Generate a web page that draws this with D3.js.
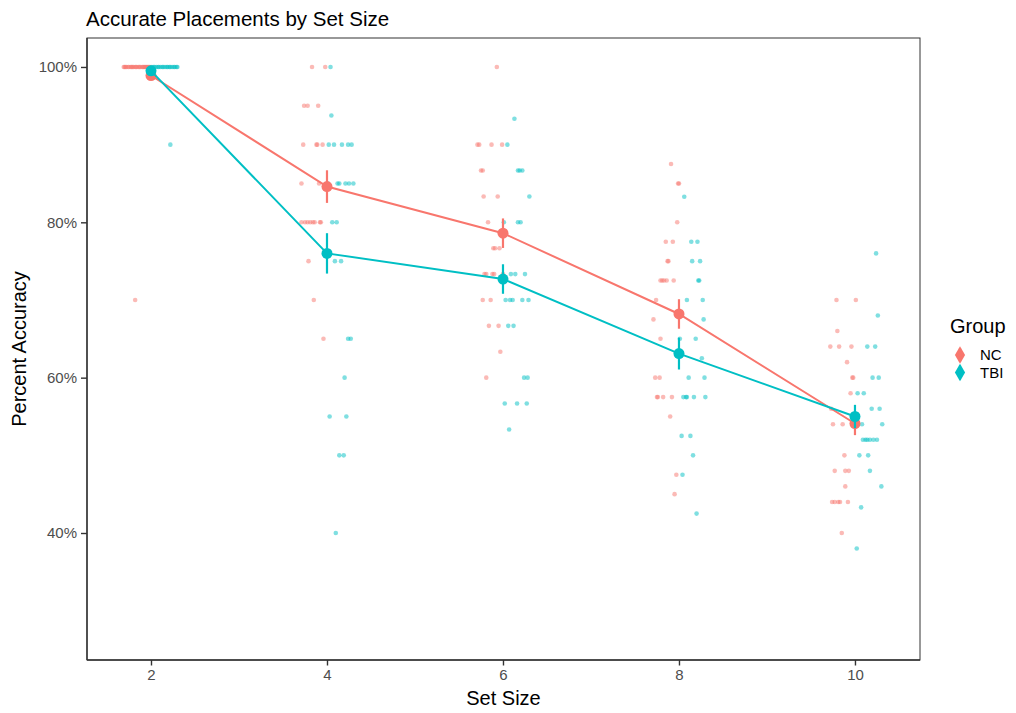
<!DOCTYPE html>
<html><head><meta charset="utf-8">
<script src="https://cdn.jsdelivr.net/npm/d3@7"></script>
<style>body{margin:0;background:#fff}svg{font-family:"Liberation Sans",Arial,Helvetica,sans-serif}</style>
</head><body>
<svg id="c" width="1016" height="713"></svg>
<script>
// ---- data ----
const setSizes = [2, 4, 6, 8, 10];
const groups = ["NC", "TBI"];
const colors = {NC: "#F8766D", TBI: "#00BFC4"};
const yTicks = [40, 60, 80, 100];

// group means and standard errors per set size
const meanNC  = [98.9, 84.6, 78.6, 68.2, 54.1];
const seNC    = [0.5, 2.1, 1.9, 1.9, 1.5];
const meanTBI = [99.5, 76.0, 72.7, 63.1, 55.0];
const seTBI   = [0.5, 2.6, 1.9, 2.05, 1.5];

// individual (jittered set size, accuracy %) observations
const ptsNC = [
  // set size 2
  [1.69,100],[1.70,100],[1.71,100],[1.72,100],[1.74,100],[1.75,100],[1.77,100],[1.78,100],[1.79,100],[1.80,100],[1.82,100],[1.83,100],[1.84,100],
  [1.86,100],[1.87,100],[1.88,100],[1.90,100],[1.91,100],[1.92,100],[1.93,100],[1.94,100],[1.95,100],[1.96,100],[1.97,100],[1.98,100],[1.99,100],[1.82,70],
  // set size 4
  [3.83,100],[3.98,100],[3.74,95],[3.78,95],[3.90,95],[3.73,90],[3.88,90],[3.89,90],[3.95,90],[3.71,85],[3.91,85],
  [3.71,80],[3.75,80],[3.78,80],[3.81,80],[3.84,80],[3.86,80],[3.92,80],[3.93,80],[3.79,75],[3.85,70],[3.96,65],
  // set size 6
  [5.93,100],[5.71,90],[5.73,90],[5.87,90],[5.99,90],[5.75,86.67],[5.77,86.67],[5.78,83.33],[5.94,83.33],[5.83,80],
  [5.89,76.67],[5.91,76.67],[5.96,76.67],[5.79,73.33],[5.81,73.33],[5.88,73.33],[5.90,73.33],[6.00,73.33],
  [5.77,70],[5.86,70],[5.84,66.67],[5.95,66.67],[5.97,63.33],[5.81,60],
  // set size 8
  [7.91,87.5],[7.99,85],[8.00,85],[7.98,80],[7.85,77.5],[7.93,77.5],[7.87,75],[7.88,75],
  [7.79,72.5],[7.81,72.5],[7.83,72.5],[7.86,72.5],[7.94,72.5],[7.74,70],[7.71,67.5],[7.79,65],
  [7.73,60],[7.78,60],[7.75,57.5],[7.76,57.5],[7.82,57.5],[7.92,57.5],[7.90,55],[7.97,47.5],[7.95,45],
  // set size 10
  [9.79,70],[10.01,70],[9.80,66],[9.72,64],[9.82,64],[9.96,64],[9.91,62],[9.97,60],[9.98,60],[9.95,58],[9.73,56],
  [9.75,54],[9.86,54],[10.00,54],[9.88,50],[9.77,48],[9.89,48],[9.93,48],[9.89,46],
  [9.74,44],[9.77,44],[9.81,44],[9.83,44],[9.92,44],[9.85,40]
];
const ptsTBI = [
  // set size 2
  [2.01,100],[2.03,100],[2.04,100],[2.06,100],[2.08,100],[2.09,100],[2.11,100],[2.13,100],[2.14,100],[2.16,100],
  [2.18,100],[2.19,100],[2.21,100],[2.22,100],[2.24,100],[2.26,100],[2.27,100],[2.29,100],[2.30,100],[2.22,90],
  // set size 4
  [4.04,100],[4.05,93.75],[4.02,90],[4.08,90],[4.17,90],[4.24,90],[4.28,90],
  [4.01,85],[4.12,85],[4.14,85],[4.21,85],[4.25,85],[4.30,85],[4.06,80],[4.11,80],[4.09,75],[4.16,75],
  [4.24,65],[4.27,65],[4.20,60],[4.03,55],[4.22,55],[4.14,50],[4.19,50],[4.10,40],
  // set size 6
  [6.13,93.33],[6.05,90],[6.17,86.67],[6.19,86.67],[6.22,86.67],[6.30,83.33],[6.01,80],[6.17,80],[6.20,80],
  [6.09,73.33],[6.14,73.33],[6.25,73.33],[6.03,70],[6.08,70],[6.11,70],[6.22,70],[6.29,70],
  [6.06,66.67],[6.12,66.67],[6.24,60],[6.28,60],[6.02,56.67],[6.16,56.67],[6.27,56.67],[6.07,53.33],
  // set size 8
  [8.06,83.3],[8.14,77.5],[8.21,77.5],[8.15,75],[8.24,75],[8.22,72.5],[8.23,72.5],[8.09,70],[8.27,70],[8.28,67.5],
  [8.01,65],[8.19,65],[8.26,62.5],[8.11,60],[8.29,60],[8.05,57.5],[8.08,57.5],[8.09,57.5],[8.17,57.5],[8.30,57.5],
  [8.03,52.5],[8.13,52.5],[8.16,50],[8.04,47.5],[8.20,42.5],
  // set size 10
  [10.24,76],[10.26,68],[10.14,64],[10.23,64],[10.20,60],[10.27,60],[10.03,58],[10.10,58],[10.19,56],[10.28,56],
  [10.08,54],[10.31,54],[10.09,52],[10.12,52],[10.14,52],[10.17,52],[10.21,52],[10.25,52],
  [10.05,50],[10.15,50],[10.17,48],[10.30,46],[10.07,43.3],[10.02,38]
];

// ---- layout ----
const svg = d3.select("#c");
const L = 87, R = 920, T = 38, B = 660;
const x = d3.scaleLinear().domain([1.2727, 10.739]).range([L, R]);
const y = d3.scaleLinear().domain([23.65, 103.73]).range([B, T]);
const axisCol = "#333333", labCol = "#4d4d4d";

// panel border
svg.append("rect").attr("x", L).attr("y", T).attr("width", R - L).attr("height", B - T)
  .attr("fill", "none").attr("stroke", "#333").attr("stroke-width", 1);

// axes
const xAx = svg.append("g").attr("transform", `translate(0,${B})`)
  .call(d3.axisBottom(x).tickValues(setSizes).tickSize(5.5).tickPadding(4).tickFormat(d3.format("d")));
const yAx = svg.append("g").attr("transform", `translate(${L},0)`)
  .call(d3.axisLeft(y).tickValues(yTicks).tickSize(6).tickPadding(4).tickFormat(d => d + "%"));
[xAx, yAx].forEach(g => {
  g.select(".domain").attr("stroke", axisCol).attr("stroke-width", 1.4);
  g.selectAll(".tick line").attr("stroke", axisCol).attr("stroke-width", 1.4);
  g.selectAll(".tick text").attr("fill", labCol).style("font-size", "15px")
    .style("font-family", '"Liberation Sans",Arial,sans-serif');
});
yAx.select(".domain").attr("d", `M0,${T}V${B}`);
xAx.select(".domain").attr("d", `M${L},0H${R}`);

// jittered points
const pts = {NC: ptsNC, TBI: ptsTBI};
groups.forEach(g => {
  svg.append("g").selectAll("circle").data(pts[g]).join("circle")
    .attr("cx", d => x(d[0])).attr("cy", d => y(d[1])).attr("r", 2.3)
    .attr("fill", colors[g]).attr("fill-opacity", 0.5);
});

// mean lines, error bars, mean points
const means = {NC: meanNC, TBI: meanTBI};
const ses = {NC: seNC, TBI: seTBI};
groups.forEach(g => {
  const data = setSizes.map((s, i) => ({s, m: means[g][i], e: ses[g][i]}));
  const gg = svg.append("g");
  gg.append("path").datum(data)
    .attr("d", d3.line().x(d => x(d.s)).y(d => y(d.m)))
    .attr("fill", "none").attr("stroke", colors[g]).attr("stroke-width", 2);
  gg.selectAll("line").data(data).join("line")
    .attr("x1", d => x(d.s)).attr("x2", d => x(d.s))
    .attr("y1", d => y(d.m - d.e)).attr("y2", d => y(d.m + d.e))
    .attr("stroke", colors[g]).attr("stroke-width", 2.2);
  gg.selectAll("circle").data(data).join("circle")
    .attr("cx", d => x(d.s)).attr("cy", d => y(d.m)).attr("r", 5.5)
    .attr("fill", colors[g]);
});

// titles
svg.append("text").attr("x", L - 1).attr("y", 26).text("Accurate Placements by Set Size")
  .style("font-size", "20.5px").attr("fill", "#000");
svg.append("text").attr("x", (L + R) / 2).attr("y", 705).attr("text-anchor", "middle")
  .text("Set Size").style("font-size", "20px").attr("fill", "#000");
svg.append("text").attr("transform", `translate(26,${(T + B) / 2}) rotate(-90)`).attr("text-anchor", "middle")
  .text("Percent Accuracy").style("font-size", "20px").attr("fill", "#000");

// legend
const lg = svg.append("g");
lg.append("text").attr("x", 950).attr("y", 333).text("Group").style("font-size", "20px").attr("fill", "#000");
groups.forEach((g, i) => {
  const cy = 355 + i * 17.5;
  lg.append("line").attr("x1", 960).attr("x2", 960).attr("y1", cy - 7).attr("y2", cy + 7)
    .attr("stroke", colors[g]).attr("stroke-width", 2.2);
  lg.append("path").attr("d", d3.symbol(d3.symbolDiamond, 90)()).attr("transform", `translate(960,${cy})`)
    .attr("fill", colors[g]);
  lg.append("text").attr("x", 980).attr("y", cy + 5).text(g).style("font-size", "15px").attr("fill", "#000");
});
</script>
</body></html>
